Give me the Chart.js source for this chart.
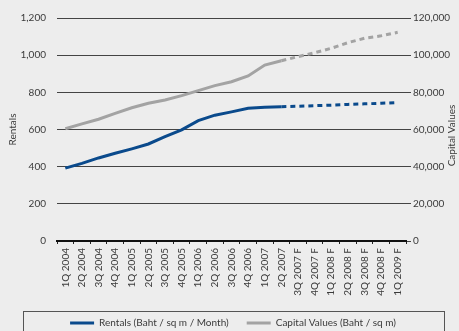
<!DOCTYPE html>
<html>
<head>
<meta charset="utf-8">
<script src="https://cdn.jsdelivr.net/npm/chart.js@4"></script>
<style>
  html, body { margin: 0; padding: 0; background: #ededed; }
  #wrap { width: 459px; height: 331px; }
</style>
</head>
<body>
<div id="wrap"><canvas id="c" width="459" height="331"></canvas></div>
<script>
// quarters, actual up to 2Q 2007 then forecast
const quarters = ['1Q 2004', '2Q 2004', '3Q 2004', '4Q 2004', '1Q 2005', '2Q 2005', '3Q 2005',
  '4Q 2005', '1Q 2006', '2Q 2006', '3Q 2006', '4Q 2006', '1Q 2007', '2Q 2007',
  '3Q 2007 F', '4Q 2007 F', '1Q 2008 F', '2Q 2008 F', '3Q 2008 F', '4Q 2008 F', '1Q 2009 F'];
const lastActual = 13;
const rentals = [392, 418, 447, 472, 496, 522, 561, 598, 648, 677, 695, 714, 720, 723,
  725, 728, 731, 735, 738, 741, 745];
const capitalValues = [60400, 63000, 65500, 68700, 71700, 74100, 75900, 78200, 80900, 83600,
  85700, 88800, 94700, 97000, 99200, 101300, 103700, 106700, 109100, 110400, 112300];
const rentalTicks = [0, 200, 400, 600, 800, 1000, 1200];
const capitalTicks = [0, 20000, 40000, 60000, 80000, 100000, 120000];

const BLUE = '#0a4a8c';
const GREY = '#a3a3a3';
const TEXT = '#3a3a3a';
const FONT = 'Lato, "DejaVu Sans", sans-serif';

Chart.defaults.font.family = FONT;
Chart.defaults.font.size = 10;
Chart.defaults.color = TEXT;

const dashForecast = ctx => ctx.p1DataIndex > lastActual ? [5, 4] : undefined;

// frame round the legend, right axis title read bottom-up
const extras = {
  id: 'extras',
  afterDraw(chart) {
    const lg = chart.legend;
    const area = chart.chartArea;
    const c = chart.ctx;
    c.save();
    c.strokeStyle = '#555';
    c.lineWidth = 1;
    c.strokeRect(23.5, lg.top + 11.5, 421, 40);
    c.translate(452, (area.top + area.bottom) / 2 + 6);
    c.rotate(-Math.PI / 2);
    c.fillStyle = TEXT;
    c.font = '10px ' + FONT;
    c.textAlign = 'center';
    c.textBaseline = 'middle';
    c.fillText('Capital Values', 0, 0);
    c.restore();
  }
};

new Chart(document.getElementById('c').getContext('2d'), {
  type: 'line',
  data: {
    labels: quarters,
    datasets: [
      {
        label: 'Rentals (Baht / sq m / Month)',
        data: rentals,
        yAxisID: 'y',
        borderColor: BLUE,
        backgroundColor: BLUE,
        borderWidth: 3,
        pointRadius: 0,
        tension: 0,
        fill: false,
        segment: { borderDash: dashForecast }
      },
      {
        label: 'Capital Values (Baht / sq m)',
        data: capitalValues,
        yAxisID: 'y2',
        borderColor: GREY,
        backgroundColor: GREY,
        borderWidth: 3,
        pointRadius: 0,
        tension: 0,
        fill: false,
        segment: { borderDash: dashForecast }
      }
    ]
  },
  options: {
    responsive: false,
    animation: false,
    layout: { padding: { top: 18, left: 7, right: 0, bottom: -7 } },
    plugins: {
      legend: {
        position: 'bottom',
        labels: {
          boxWidth: 24, boxHeight: 3, padding: 18, color: TEXT,
          generateLabels: chart => Chart.defaults.plugins.legend.labels.generateLabels(chart)
            .map(l => Object.assign(l, { lineWidth: 0 }))
        }
      },
      tooltip: { enabled: false }
    },
    scales: {
      x: {
        offset: true,
        grid: { display: true, drawOnChartArea: false, offset: true, tickLength: 3, color: '#222' },
        border: { color: '#111', width: 2 },
        ticks: { maxRotation: 90, minRotation: 90, autoSkip: false, padding: 4, color: TEXT },
        afterFit: s => { s.height = 59; }
      },
      y: {
        position: 'left',
        min: 0, max: 1200,
        afterBuildTicks: s => { s.ticks = rentalTicks.map(v => ({ value: v })); },
        ticks: { padding: 11, callback: v => v.toLocaleString('en-US') },
        grid: {
          drawTicks: false,
          color: ctx => ctx.tick && ctx.tick.value === 0 ? '#111' : '#444',
          lineWidth: ctx => ctx.tick && ctx.tick.value === 0 ? 2 : 1
        },
        border: { display: false },
        title: { display: true, text: 'Rentals', padding: 0, color: TEXT },
        afterFit: s => { s.width = 50; }
      },
      y2: {
        position: 'right',
        min: 0, max: 120000,
        afterBuildTicks: s => { s.ticks = capitalTicks.map(v => ({ value: v })); },
        ticks: { padding: 2, callback: v => v.toLocaleString('en-US') },
        grid: { drawOnChartArea: false, tickLength: 5, color: '#444' },
        border: { display: false },
        afterFit: s => { s.width = 53; }
      }
    }
  },
  plugins: [extras]
});
</script>
</body>
</html>
